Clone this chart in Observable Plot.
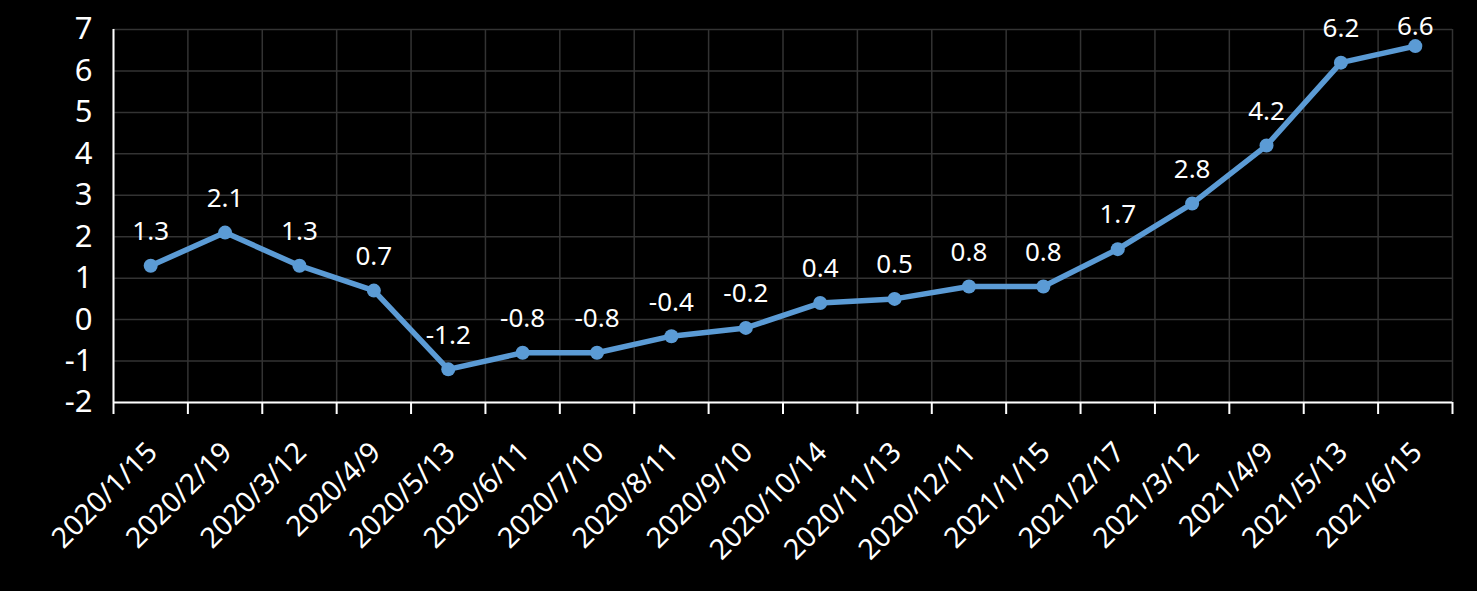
<!DOCTYPE html>
<html>
<head>
<meta charset="utf-8">
<script src="https://cdn.jsdelivr.net/npm/d3@7"></script>
<script src="https://cdn.jsdelivr.net/npm/@observablehq/plot@0.6"></script>
<style>
  html, body { margin: 0; padding: 0; background: #000; }
  #chart svg { display: block; }
</style>
</head>
<body>
<div id="chart"></div>
<script>
const dates = ["2020/1/15","2020/2/19","2020/3/12","2020/4/9","2020/5/13","2020/6/11","2020/7/10","2020/8/11","2020/9/10","2020/10/14","2020/11/13","2020/12/11","2021/1/15","2021/2/17","2021/3/12","2021/4/9","2021/5/13","2021/6/15"];
const values = [1.3, 2.1, 1.3, 0.7, -1.2, -0.8, -0.8, -0.4, -0.2, 0.4, 0.5, 0.8, 0.8, 1.7, 2.8, 4.2, 6.2, 6.6];
const yTicks = [-2, -1, 0, 1, 2, 3, 4, 5, 6, 7];

const data = dates.map((d, i) => ({i, date: d, value: values[i]}));
const bounds = d3.range(dates.length + 1).map(k => k - 0.5);
const font = "'Noto Sans', 'Open Sans', sans-serif";
const blue = "#5B9BD5";
const nearTop = d => d.value > 6.4;

const chart = Plot.plot({
  width: 1477,
  height: 591,
  marginLeft: 113,
  marginRight: 25,
  marginTop: 29,
  marginBottom: 189,
  style: {background: "#000", color: "#fff", fontFamily: font},
  x: {type: "linear", domain: [-0.5, dates.length - 0.5], label: null},
  y: {domain: [-2, 7], label: null},
  marks: [
    Plot.ruleX(bounds, {stroke: "#333", strokeWidth: 1.5}),
    Plot.ruleY(yTicks, {stroke: "#333", strokeWidth: 1.5}),
    Plot.axisY({ticks: yTicks, tickSize: 0, tickPadding: 21, fontSize: 31, fill: "#fff", tickFormat: d => d, label: null}),
    Plot.axisX({ticks: bounds, tickSize: 12, stroke: "#fff", strokeWidth: 2, tickFormat: () => "", label: null}),
    Plot.axisX({ticks: d3.range(dates.length), tickSize: 0, tickPadding: 33, dy: 12, dx: 2, tickRotate: -45, fontSize: 28.5, fill: "#fff", tickFormat: i => dates[i], label: null}),
    Plot.ruleY([-2], {stroke: "#fff", strokeWidth: 2}),
    Plot.ruleX([-0.5], {stroke: "#fff", strokeWidth: 2}),
    Plot.line(data, {x: "i", y: "value", stroke: blue, strokeWidth: 5.5}),
    Plot.dot(data, {x: "i", y: "value", r: 7, fill: blue}),
    Plot.text(data, {filter: d => !nearTop(d), x: "i", y: "value", text: d => d.value.toFixed(1), dy: -34, fill: "#fff", fontSize: 26}),
    Plot.text(data, {filter: nearTop, x: "i", y: "value", text: d => d.value.toFixed(1), dy: -19, fill: "#fff", fontSize: 26})
  ]
});
document.getElementById("chart").append(chart);
</script>
</body>
</html>
